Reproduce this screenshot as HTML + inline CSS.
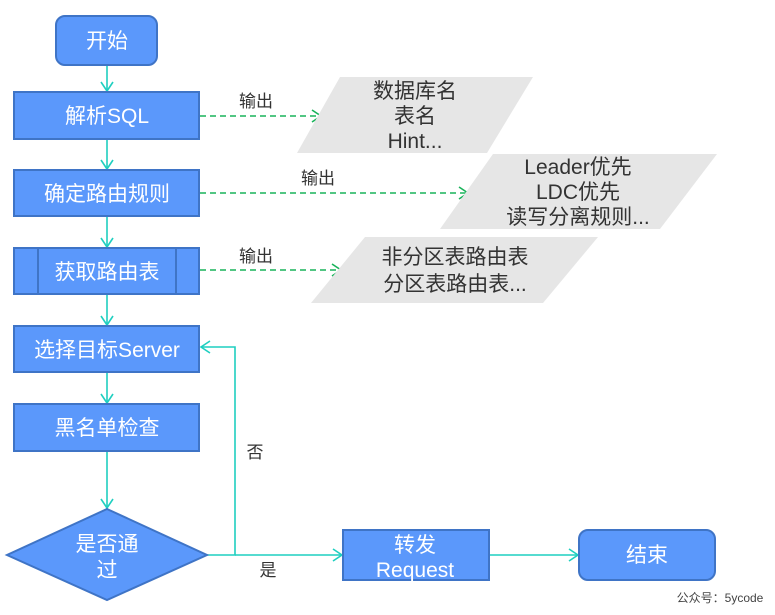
<!DOCTYPE html>
<html><head><meta charset="utf-8"><style>
html,body{margin:0;padding:0;background:#fff;}
svg{display:block;}
text{font-family:"Liberation Sans","Noto Sans CJK SC",sans-serif;}
.w{fill:#fff;font-size:21px;text-anchor:middle;}
.d{fill:#333;font-size:21px;text-anchor:middle;}
.s{fill:#333;font-size:17px;text-anchor:middle;}
.b{fill:#5b98fb;stroke:#3f74c6;stroke-width:2;}
.c{stroke:#1fcfc0;stroke-width:1.6;fill:none;}
.g{stroke:#19b35a;stroke-width:1.6;fill:none;stroke-dasharray:6,4;}
.ga{stroke:#19b35a;stroke-width:1.6;fill:none;}
.p{fill:#e6e6e6;}
</style></head><body>
<svg width="775" height="615" viewBox="0 0 775 615">
<line class="c" x1="107" y1="65" x2="107" y2="92"/><polyline class="c" points="101,82 107,91 113,82"/>
<line class="c" x1="107" y1="139" x2="107" y2="170"/><polyline class="c" points="101,160 107,169 113,160"/>
<line class="c" x1="107" y1="216" x2="107" y2="248"/><polyline class="c" points="101,238 107,247 113,238"/>
<line class="c" x1="107" y1="294" x2="107" y2="326"/><polyline class="c" points="101,316 107,325 113,316"/>
<line class="c" x1="107" y1="372" x2="107" y2="404"/><polyline class="c" points="101,394 107,403 113,394"/>
<line class="c" x1="107" y1="451" x2="107" y2="509"/><polyline class="c" points="101,499 107,508 113,499"/>
<polyline class="c" points="207,555 235,555 235,347 201,347"/><polyline class="c" points="210,341 201,347 210,353"/>
<line class="c" x1="235" y1="555" x2="342" y2="555"/><polyline class="c" points="333,549 342,555 333,561"/>
<line class="c" x1="489" y1="555" x2="578" y2="555"/><polyline class="c" points="569,549 578,555 569,561"/>
<line class="g" x1="200" y1="116" x2="320" y2="116"/><polyline class="ga" points="312,110 321,116 312,122"/>
<line class="g" x1="200" y1="193" x2="467" y2="193"/><polyline class="ga" points="459,187 468,193 459,199"/>
<line class="g" x1="200" y1="270" x2="340" y2="270"/><polyline class="ga" points="332,264 341,270 332,276"/>
<text class="s" x="256" y="107">输出</text>
<text class="s" x="318" y="184">输出</text>
<text class="s" x="256" y="262">输出</text>
<polygon class="p" points="340,77 533,77 487,153 297,153"/>
<text class="d" x="415" y="98">数据库名</text>
<text class="d" x="415" y="123">表名</text>
<text class="d" x="415" y="148">Hint...</text>
<polygon class="p" points="493,154 717,154 660,229 440,229"/>
<text class="d" x="578" y="174">Leader优先</text>
<text class="d" x="578" y="199">LDC优先</text>
<text class="d" x="578" y="224">读写分离规则...</text>
<polygon class="p" points="365,237 598,237 543,303 311,303"/>
<text class="d" x="455" y="264">非分区表路由表</text>
<text class="d" x="455" y="291">分区表路由表...</text>
<rect class="b" x="56" y="16" width="101" height="49" rx="9"/><text class="w" x="107" y="48">开始</text>
<rect class="b" x="14" y="92" width="185" height="47"/><text class="w" x="107" y="123">解析SQL</text>
<rect class="b" x="14" y="170" width="185" height="46"/><text class="w" x="107" y="201">确定路由规则</text>
<rect class="b" x="14" y="248" width="185" height="46"/><line x1="38" y1="248" x2="38" y2="294" stroke="#3f74c6" stroke-width="2"/><line x1="176" y1="248" x2="176" y2="294" stroke="#3f74c6" stroke-width="2"/><text class="w" x="107" y="279">获取路由表</text>
<rect class="b" x="14" y="326" width="185" height="46"/><text class="w" x="107" y="357">选择目标Server</text>
<rect class="b" x="14" y="404" width="185" height="47"/><text class="w" x="107" y="435">黑名单检查</text>
<polygon class="b" points="107,509 207,555 107,600 7,555"/>
<text class="w" x="107" y="551">是否通</text><text class="w" x="107" y="577">过</text>
<rect class="b" x="343" y="530" width="146" height="50"/>
<text class="w" x="415" y="552">转发</text><text class="w" x="415" y="577">Request</text>
<rect class="b" x="579" y="530" width="136" height="50" rx="9"/><text class="w" x="647" y="562">结束</text>
<text class="s" x="255" y="458">否</text>
<text class="s" x="268" y="576">是</text>
<text x="720" y="602" style="font-size:12px;fill:#444;text-anchor:middle;">公众号：5ycode</text>
</svg>
</body></html>
